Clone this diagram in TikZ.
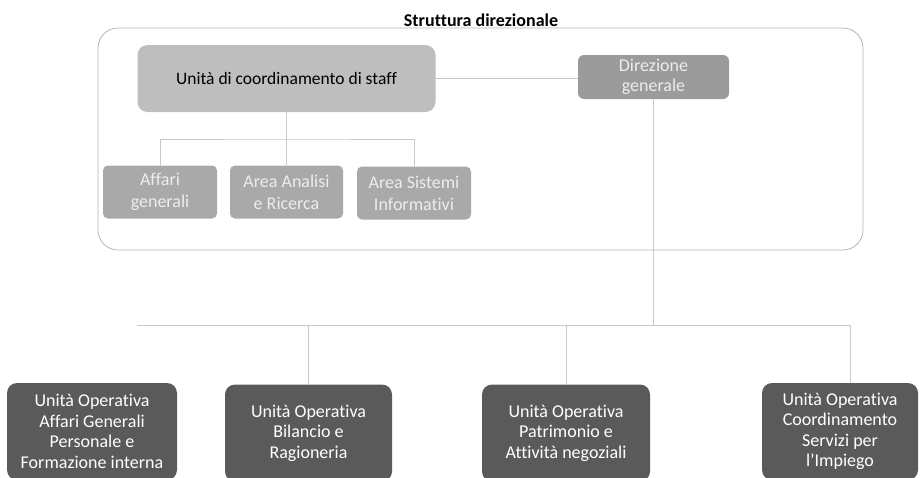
\documentclass[tikz,border=0pt]{standalone}
\usepackage{fontspec}
\setmainfont[Ligatures=NoCommon]{Carlito}
\usepackage{tikz}

\definecolor{framegray}{HTML}{B4B4B4}
\definecolor{linegray}{HTML}{C8C8C8}
\definecolor{staffgray}{HTML}{BEBEBE}
\definecolor{subgray}{HTML}{A9A9A9}
\definecolor{dirgray}{HTML}{9B9B9B}
\definecolor{unitgray}{HTML}{5A5A5A}
\definecolor{paletext}{HTML}{EDEDED}

\begin{document}
\begin{tikzpicture}[
            x = 1pt, y = -1pt, % one unit per pixel, y downwards
            font = \fontsize{18}{21}\selectfont,
            connector/.style = {draw = linegray, line width = 0.8pt}
        ]

        \tikzstyle{staff box}=[
            fill = staffgray,
            rounded corners = 10pt,
            minimum width = 298pt,
            minimum height = 67pt,
            text = black,
            font = \fontsize{17.5}{21}\selectfont
        ]
        \tikzstyle{area box}=[
            fill = subgray,
            rounded corners = 5pt,
            minimum width = 114pt,
            minimum height = 53pt,
            align = center,
            inner sep = 1pt,
            text = paletext,
            font = \fontsize{18}{22}\selectfont
        ]
        \tikzstyle{direction box}=[
            fill = dirgray,
            rounded corners = 6pt,
            minimum width = 151pt,
            minimum height = 44pt,
            align = center,
            inner sep = 0pt,
            text = paletext,
            font = \fontsize{18}{20.5}\selectfont
        ]
        \tikzstyle{unit box}=[
            fill = unitgray,
            rounded corners = 10pt,
            minimum height = 97pt,
            align = center,
            inner sep = 1pt,
            text = white,
            font = \fontsize{18}{20.5}\selectfont
        ]

        \useasboundingbox (0,0) rectangle (921,477);

        % frame of the direction structure
        \draw[framegray, line width = 0.8pt, rounded corners = 20pt] (98,28) rectangle (863,250);
        \node[font = \bfseries\fontsize{18}{20}\selectfont, inner sep = 0pt] (title) at (481,20) {Struttura direzionale};

        \node[staff box] (staff) at (286.5,78.5) {Unità di coordinamento di staff};
        \node[direction box] (dg) at (653.5,77) {Direzione\\generale};

        \node[area box] (affari) at (160,192) {Affari\\generali};
        \node[area box, minimum width = 113pt] (analisi) at (286.5,192) {Area Analisi\\e Ricerca};
        \node[area box] (sistemi) at (414,193) {Area Sistemi\\Informativi};

        \node[unit box, minimum width = 170pt] (uoag) at (92,431.5) {Unità Operativa\\Affari Generali\\Personale e\\Formazione interna};
        \node[unit box, minimum width = 167pt] (uobil) at (308.5,433) {Unità Operativa\\Bilancio e\\Ragioneria};
        \node[unit box, minimum width = 168pt] (uopat) at (566,433) {Unità Operativa\\Patrimonio e\\Attività negoziali};
        \node[unit box, minimum width = 156pt] (uocsi) at (840,431.5) {Unità Operativa\\Coordinamento\\Servizi per\\l’Impiego};

        % staff connectors
        \coordinate (staffbus) at (286.5,139);
        \path[connector] (staff.east) -- (staff.east -| dg.west);
        \path[connector] (staff.south) -- (analisi.north);
        \path[connector] (affari.north) |- (staffbus) -| (sistemi.north);

        % operative units connectors
        \coordinate (busL) at (137,325);
        \coordinate (busR) at (850,325);
        \path[connector] (dg.south) -- (dg.south |- busL);
        \path[connector] (busL) -- (busR);
        \path[connector] (uobil.north) -- (uobil.north |- busL);
        \path[connector] (uopat.north) -- (uopat.north |- busL);
        \path[connector] (busR) -- (busR |- uocsi.north);

  \end{tikzpicture}
\end{document}
